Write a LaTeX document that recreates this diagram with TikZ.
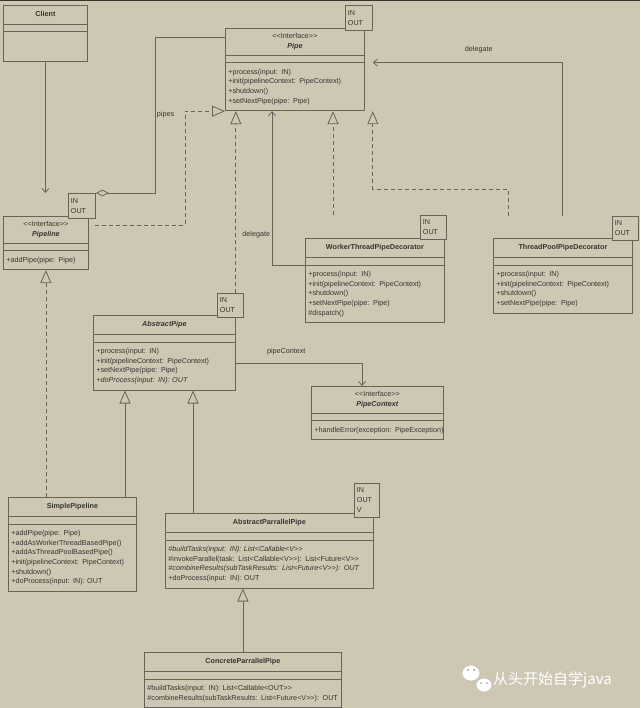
\documentclass[tikz,border=0pt]{standalone}
\usepackage{fontspec}
\setmainfont{Liberation Sans}
\newfontfamily\cjkfont{Noto Sans CJK SC}
\usepackage{tikz}
\usetikzlibrary{shapes.multipart,arrows.meta,calc}

\definecolor{paper}{HTML}{CEC7B4}
\definecolor{umlline}{HTML}{67635A}
\definecolor{umltext}{HTML}{35342F}

\newcommand{\topstrut}{\rule{0pt}{7.8pt}}
\newcommand{\botstrut}{\rule[-3.9pt]{0pt}{3.9pt}}

\tikzset{
  umlclass/.style={rectangle split, rectangle split parts=3, draw=umlline,
    line width=0.8pt, text=umltext, inner xsep=3pt, inner ysep=3.3pt,
    anchor=north west, font=\fontsize{7.2}{9.7}\selectfont},
  tmpl/.style={draw=umlline, line width=0.8pt, fill=paper, text=umltext,
    anchor=north west, align=left, inner xsep=2.5pt, inner ysep=1pt,
    font=\fontsize{7.2}{10}\selectfont},
  lbl/.style={font=\fontsize{7.2}{9}\selectfont, text=umltext, inner sep=1.5pt},
  conn/.style={draw=umlline, line width=0.8pt},
  realize/.style={conn, dash pattern=on 4pt off 3pt,
    -{Triangle[open, length=13pt, width=11pt, line width=0.8pt]}},
  generalize/.style={conn, -{Triangle[open, length=13pt, width=11pt, line width=0.8pt]}},
  assoc/.style={conn, -{Straight Barb[length=4pt, width=7pt]}},
  aggr/.style={conn, {Diamond[open, length=13pt, width=6.5pt, line width=0.8pt]}-}
}

\begin{document}
\begin{tikzpicture}[x=1pt, y=-1pt]
\fill[paper] (0,0) rectangle (640,708);
\useasboundingbox (0,0) rectangle (640,708);
\fill[umltext] (0,0) rectangle (640,1.5);

% classes
\node[umlclass, text width=78pt] (client) at (3,5)
  {\centering\topstrut\textbf{Client}\botstrut\par
   \nodepart{two}
   \nodepart{three}\rule{0pt}{22pt}};
\node[umlclass, text width=133pt] (pipe) at (225,28)
  {\centering\strut<{}<Interface>{}>\\\textbf{\textit{Pipe}}\strut\par
   \nodepart{two}
   \nodepart{three}\raggedright\topstrut+process(input: IN)\\+init(pipelineContext: PipeContext)\\+shutdown()\\+setNextPipe(pipe: Pipe)\botstrut\par};
\node[umlclass, text width=79pt] (pipeline) at (3,216)
  {\centering\strut<{}<Interface>{}>\\\textbf{\textit{Pipeline}}\strut\par
   \nodepart{two}
   \nodepart{three}\raggedright\topstrut+addPipe(pipe: Pipe)\botstrut\par};
\node[umlclass, text width=133pt] (wt) at (305,238)
  {\centering\topstrut\textbf{WorkerThreadPipeDecorator}\botstrut\par
   \nodepart{two}
   \nodepart{three}\raggedright\topstrut+process(input: IN)\\+init(pipelineContext: PipeContext)\\+shutdown()\\+setNextPipe(pipe: Pipe)\\\#dispatch()\botstrut\par};
\node[umlclass, text width=133pt] (tp) at (493,238)
  {\centering\topstrut\textbf{ThreadPoolPipeDecorator}\botstrut\par
   \nodepart{two}
   \nodepart{three}\raggedright\topstrut+process(input: IN)\\+init(pipelineContext: PipeContext)\\+shutdown()\\+setNextPipe(pipe: Pipe)\botstrut\par};
\node[umlclass, text width=136pt] (ap) at (93,315)
  {\centering\topstrut\textbf{\textit{AbstractPipe}}\botstrut\par
   \nodepart{two}
   \nodepart{three}\raggedright\topstrut+process(input: IN)\\+init(pipelineContext: PipeContext)\\+setNextPipe(pipe: Pipe)\\\textit{+doProcess(input: IN): OUT}\botstrut\par};
\node[umlclass, text width=126pt] (pc) at (311,386)
  {\centering\strut<{}<Interface>{}>\\\textbf{\textit{PipeContext}}\strut\par
   \nodepart{two}
   \nodepart{three}\raggedright\topstrut\mbox{+handleError(exception: PipeException)}\botstrut\par};
\node[umlclass, text width=122pt] (sp) at (8,497)
  {\centering\topstrut\textbf{SimplePipeline}\botstrut\par
   \nodepart{two}
   \nodepart{three}\raggedright\topstrut+addPipe(pipe: Pipe)\\+addAsWorkerThreadBasedPipe()\\+addAsThreadPoolBasedPipe()\\+init(pipelineContext: PipeContext)\\+shutdown()\\+doProcess(input: IN): OUT\botstrut\par};
\node[umlclass, text width=202pt] (app) at (165,513)
  {\centering\topstrut\textbf{AbstractParrallelPipe}\botstrut\par
   \nodepart{two}
   \nodepart{three}\raggedright\topstrut\textit{\#buildTasks(input: IN): List<Callable<V>{}>}\\\mbox{\#invokeParallel(task: List<Callable<V>{}>): List<Future<V>{}>}\\\mbox{\textit{\#combineResults(subTaskResults: List<Future<V>{}>): OUT}}\\+doProcess(input: IN): OUT\botstrut\par};
\node[umlclass, text width=191pt] (cp) at (144,652)
  {\centering\topstrut\textbf{ConcreteParrallelPipe}\botstrut\par
   \nodepart{two}
   \nodepart{three}\raggedright\topstrut\#buildTasks(input: IN): List<Callable<OUT>{}>\\\mbox{\#combineResults(subTaskResults: List<Future<V>{}>): OUT}\botstrut\par};

% type parameter boxes
\node[tmpl, text width=22pt, minimum height=25pt] (pipetpl) at (345,5) {IN\\OUT};
\node[tmpl, text width=22pt, minimum height=25pt] (pltpl) at (68,193) {IN\\OUT};
\node[tmpl, text width=21pt, minimum height=24pt] (wttpl) at (420,215) {IN\\OUT};
\node[tmpl, text width=21pt, minimum height=24pt] (tptpl) at (612,216) {IN\\OUT};
\node[tmpl, text width=21pt, minimum height=24pt] (aptpl) at (217,293) {IN\\OUT};
\node[tmpl, text width=20pt, minimum height=34pt] (apptpl) at (354,483) {IN\\OUT\\V};

% ports
\coordinate (pipesturn) at (155,37);
\coordinate (plport) at (95,225);
\coordinate (wtreal) at ($(wt.north west)+(28,-23)$);
\coordinate (tpreal) at ($(tp.north west)+(15,-22)$);
\coordinate (tpdel) at ($(tp.north west)+(69,-22)$);
\coordinate (spgen) at ($(sp.north west)+(117,0)$);
\coordinate (appgen) at ($(app.north west)+(28,0)$);

% connectors
\draw[assoc] (client.south) -- (client.south |- pltpl.north);
\draw[aggr] (pltpl.north east) -| (pipesturn) node[lbl, pos=0.75, right] {pipes}
  -- (pipesturn -| pipe.west);
\draw[realize] (plport) -| ($(pipe.south west)+(-40,0)$) -- (pipe.south west);
\draw[realize] (aptpl.north -| ap.east) -- (pipe.south -| ap.east);
\draw[assoc] ([yshift=-27pt]wt.north west) -| ($(pipe.south west)+(47,0)$)
  node[lbl, pos=0.6, left] {delegate};
\draw[realize] (wtreal) -- (wtreal |- pipe.south);
\draw[realize] (tpreal) |- ($(pipetpl.east |- pipe.south)+(0,78)$) -- (pipetpl.east |- pipe.south);
\draw[assoc] (tpdel) |- (pipetpl.east |- pipe.two split)
  node[lbl, pos=0.72, above=8pt] {delegate};
\draw[realize] (sp.north -| pipeline.south) -- (pipeline.south);
\draw[generalize] (spgen) -- (spgen |- ap.south);
\draw[generalize] (appgen) -- (appgen |- ap.south);
\draw[generalize] (cp.north) -- (cp.north |- app.south);
\draw[assoc] ([yshift=-11pt]ap.east) -| ($(pc.north west)+(51,0)$)
  node[lbl, pos=0.2, above=7pt] {pipeContext};

% watermark
\filldraw[fill=white, draw=umlline!50] (471,673) ellipse [x radius=9pt, y radius=8pt];
\filldraw[fill=white, draw=umlline!50] (484,685) ellipse [x radius=8pt, y radius=7pt];
\fill[umlline!70] (468,670) circle [radius=1pt] (474,670) circle [radius=1pt]
  (481,683) circle [radius=0.8pt] (487,683) circle [radius=0.8pt];
\node[font=\cjkfont\fontsize{15}{15}\selectfont, text=white, anchor=west, inner sep=0pt]
  (mark) at (493,680) {从头开始自学java};
\end{tikzpicture}
\end{document}
